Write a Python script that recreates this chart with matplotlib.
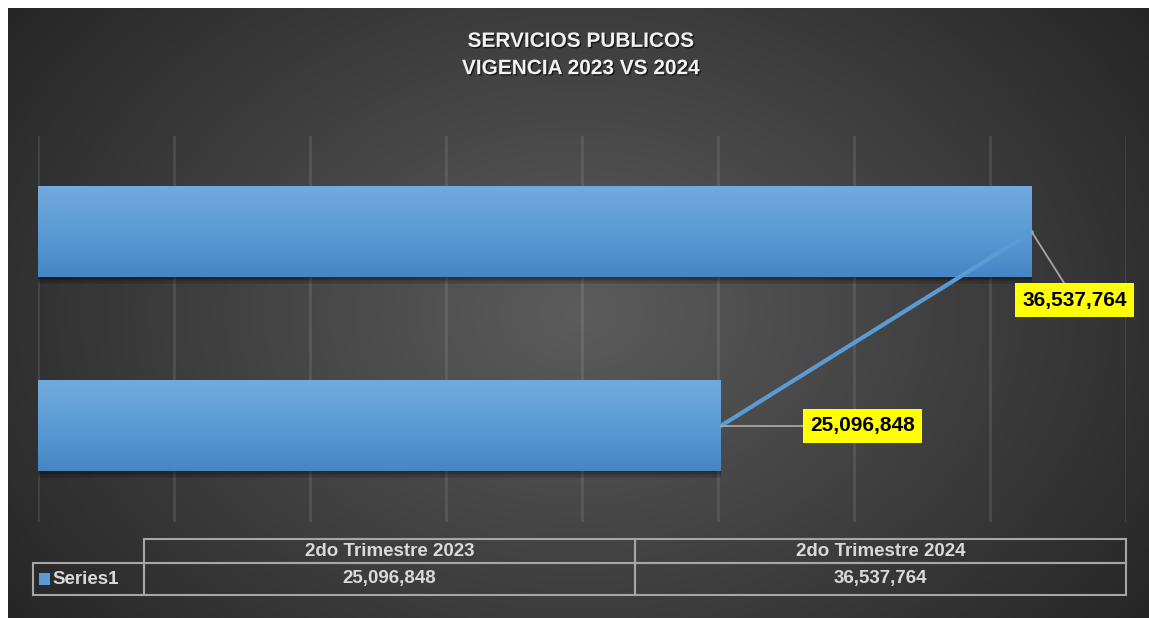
import numpy as np
import matplotlib
matplotlib.use("Agg")
import matplotlib.pyplot as plt
import matplotlib.patheffects as pe
from matplotlib.colors import LinearSegmentedColormap
from matplotlib.table import Table
from matplotlib.patches import Rectangle

plt.rcParams['font.family'] = ['Liberation Sans', 'DejaVu Sans']

# data
categories = ['2do Trimestre 2023', '2do Trimestre 2024']
values = [25096848, 36537764]
series_name = 'Series1'
title_text = 'SERVICIOS PUBLICOS\nVIGENCIA 2023 VS 2024'

W, H = 1149, 618
fig = plt.figure(figsize=(W / 100, H / 100), dpi=100, facecolor='white')

# dark radial background
bg = fig.add_axes([8 / W, 0, 1 - 8 / W, 1 - 8 / H], zorder=-5)
gx, gy = np.meshgrid(np.linspace(0, 1, 400), np.linspace(0, 1, 250))
r = np.sqrt(((gx - 0.5) / 0.62) ** 2 + ((gy - 0.5) / 0.85) ** 2)
r = np.clip(r, 0, 1)
bg_cmap = LinearSegmentedColormap.from_list('bg', ['#5c5c5c', '#262626'])
bg.imshow(r, cmap=bg_cmap, aspect='auto', extent=[0, 1, 0, 1], vmin=0, vmax=1)
bg.axis('off')

# main plot
ax = fig.add_axes([38 / W, 1 - 522 / H, 1088 / W, 386 / H])
ax.set_facecolor('none')
pos = np.arange(len(categories))
# soft shadow made of a few faint offset copies
shadow = [pe.SimplePatchShadow(offset=(0, -k), alpha=0.09, shadow_rgbFace='black')
          for k in (1, 2, 3, 4, 5)]
bars = ax.barh(pos, values, height=0.465, color='#5b9bd5', zorder=3,
               path_effects=shadow + [pe.Normal()])
bar_cmap = LinearSegmentedColormap.from_list('bar', ['#4686c6', '#5b9bd5', '#73aade'])
grad = np.linspace(0, 1, 100).reshape(-1, 1)
for b in bars:
    x0, y0, w, h = b.get_x(), b.get_y(), b.get_width(), b.get_height()
    ax.imshow(grad, cmap=bar_cmap, origin='lower', aspect='auto',
              extent=[x0, x0 + w, y0, y0 + h], zorder=4)

ax.plot(values, pos, color='#5b9bd5', lw=3, zorder=5, solid_capstyle='round')

ax.set_xlim(0, 40e6)
ax.set_ylim(-0.495, 1.495)
ax.set_xticks(np.arange(0, 40e6 + 1, 5e6))
ax.grid(axis='x', color='white', alpha=0.1, lw=2, zorder=0)
ax.tick_params(length=0, labelbottom=False, labelleft=False)
for s in ax.spines.values():
    s.set_visible(False)

# data labels
offsets = [(102, 0), (31, -49)]
for v, p, off in zip(values, pos, offsets):
    ax.annotate(f'{v:,}', xy=(v, p), xytext=off, textcoords='offset points',
                ha='center', va='center', fontsize=15, fontweight='bold',
                color='black', zorder=7,
                bbox=dict(boxstyle='square,pad=0.35', fc='#ffff00', ec='none'),
                arrowprops=dict(arrowstyle='-', color='#a6a6a6', lw=1.3,
                                shrinkA=0, shrinkB=0))

# title
fig.text(581 / W, 1 - 55 / H, title_text, ha='center', va='center',
         fontsize=15, fontweight='bold', color='#f2f2f2', linespacing=1.55,
         path_effects=[pe.withSimplePatchShadow(offset=(1, -1), alpha=0.6,
                                                shadow_rgbFace='black')])

# data table
TW, TH = 1093, 56
tax = fig.add_axes([33 / W, 1 - 595 / H, TW / W, TH / H])
tax.axis('off')
lw_label, lw_col = 111 / TW, 491 / TW
h_head, h_row = 24 / TH, 32 / TH
tab = Table(tax, bbox=[lw_label, 0, 1 - lw_label, 1])
txt_kw = dict(color='#d9d9d9', fontweight='bold', fontsize=13.5)
edge = '#a6a6a6'
for j, c in enumerate(categories):
    cell = tab.add_cell(0, j, width=lw_col, height=h_head, text=c, loc='center',
                        facecolor='none', edgecolor=edge)
    cell.get_text().set(**txt_kw)
    cell.set_linewidth(1.5)
    cell = tab.add_cell(1, j, width=lw_col, height=h_row, text=f'{values[j]:,}',
                        loc='center', facecolor='none', edgecolor=edge)
    cell.get_text().set(**txt_kw)
    cell.set_linewidth(1.5)
cell = tab.add_cell(1, -1, width=lw_label, height=h_row, text=series_name,
                    loc='left', facecolor='none', edgecolor=edge)
cell.PAD = 0.18
cell.get_text().set(**txt_kw)
cell.set_linewidth(1.5)
tab.auto_set_font_size(False)
tax.add_table(tab)
tax.add_patch(Rectangle((6 / TW, 10 / TH), 11 / TW, 12 / TH,
                        transform=tax.transAxes, facecolor='#5b9bd5',
                        edgecolor='none', zorder=5))

fig.savefig('out.png', dpi=100, facecolor='white')
